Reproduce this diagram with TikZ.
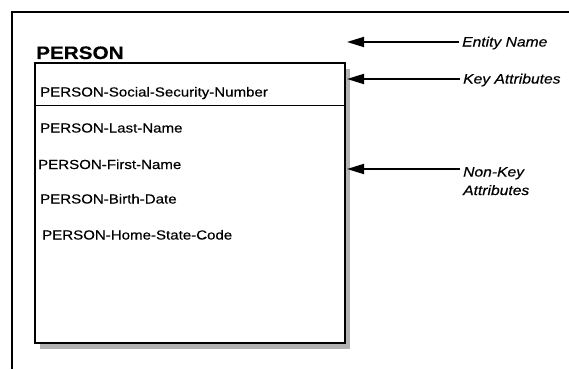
\documentclass[tikz,border=0pt]{standalone}
\usepackage{fontspec}
\setmainfont{Liberation Sans}[FakeStretch=1.15,FakeBold=0.4]
\usetikzlibrary{arrows.meta,shadows}

\begin{document}
\begin{tikzpicture}[x=1pt,y=-1pt,
  atrib/.style={anchor=base west,inner sep=0pt,font=\fontsize{13.1}{15}\selectfont},
  nota/.style={anchor=base west,inner sep=3pt,font=\fontsize{13.6}{15}\selectfont\itshape},
  flecha/.style={line width=1.8pt,-{Triangle[length=17pt,width=10pt]}}]
\useasboundingbox (0,0) rectangle (569,369);
% Marco exterior (solo arriba e izquierda)
\draw[line width=2pt] (12,369) -- (12,12) -- (569,12);
% Caja de la entidad con sombra
\node (caja) [draw,line width=1.2pt,fill=white,minimum width=310pt,minimum height=280pt,
  drop shadow={shadow xshift=5pt,shadow yshift=-6pt,fill=black!30,opacity=1}] at (190,203) {};
\draw[line width=1pt] (caja.west |- 0,105) -- (caja.east |- 0,105);
% Nombre y atributos
\node (nombre) [atrib,font=\fontsize{18}{20}\selectfont\bfseries] at (36,59) {PERSON};
\node (ssn) [atrib] at (40,96.5) {PERSON-Social-Security-Number};
\node (apellido) [atrib] at (40,132.5) {PERSON-Last-Name};
\node (nombrep) [atrib] at (38,169) {PERSON-First-Name};
\node (nacim) [atrib] at (40,203.5) {PERSON-Birth-Date};
\node (estado) [atrib] at (42,239.5) {PERSON-Home-State-Code};
% Etiquetas a la derecha
\node (en) [nota] at (459,46.5) {Entity Name};
\node (ka) [nota] at (460,83.5) {Key Attributes};
\node (nk) [nota] at (460,176.5) {Non-Key};
\node (nk2) [nota] at (460,195) {Attributes};
% Puntas de las flechas
\coordinate (entidad) at (347,42);
\coordinate (clave) at (347,79);
\coordinate (noclave) at (347,169);
\draw[flecha] (en.base west |- entidad) -- (entidad);
\draw[flecha] (ka.base west |- clave) -- (clave);
\draw[flecha] (nk.base west |- noclave) -- (noclave);
\end{tikzpicture}
\end{document}
